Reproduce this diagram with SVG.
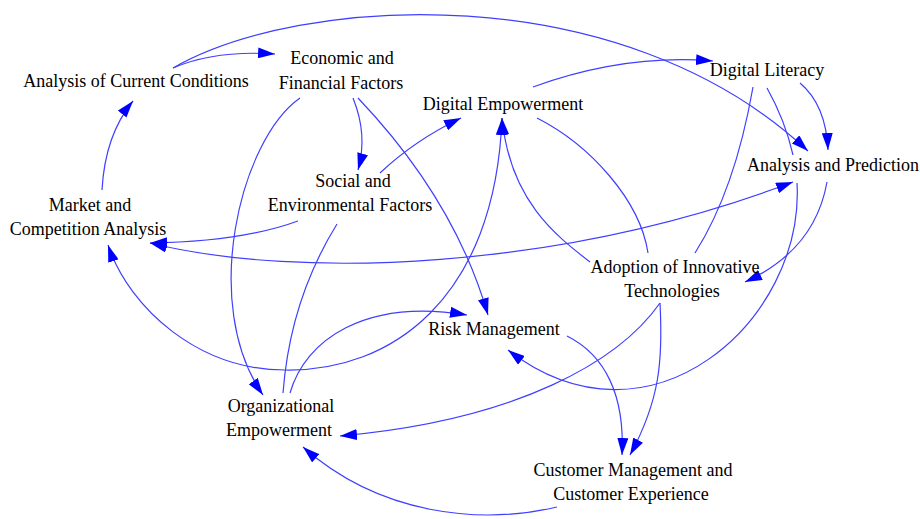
<svg xmlns="http://www.w3.org/2000/svg" width="920" height="519" viewBox="0 0 920 519">
<style>
  .bg { fill: #ffffff; }
  .lbl { font-family: "Liberation Serif", "Times New Roman", serif; font-size: 18px; fill: #000000; text-anchor: middle; }
  .c path { fill: none; stroke: #3f3fff; stroke-width: 1.2; }
  .c path.a { marker-end: url(#ah); }
  .c path.b { marker-start: url(#ah); marker-end: url(#ah); }
</style>
<defs>
  <marker id="ah" viewBox="0 0 17 11" markerWidth="17" markerHeight="11" refX="17" refY="5.5" orient="auto-start-reverse" markerUnits="userSpaceOnUse">
    <path d="M0,0 L17,5.5 L0,11 z" fill="#0000ff"/>
  </marker>
</defs>
<rect class="bg" x="0" y="0" width="920" height="519"/>

<g id="connectors" class="c">
  <path id="acc-eff" class="a" d="M173,68 Q215,50 275,54"/>
  <path id="acc-ap" class="a" d="M173,68 C300,-5 620,-25 808,151"/>
  <path id="eff-org" class="a" d="M300,98 C240,140 200,305 263,395"/>
  <path id="eff-sef" class="a" d="M353,98 Q368,135 358,170"/>
  <path id="eff-rm" class="a" d="M358,98 Q455,200 488,315"/>
  <path id="sef-de" class="a" d="M380,173 Q415,140 461,118"/>
  <path id="sef-mca" class="a" d="M298,221 Q240,242 150,243"/>
  <path id="mca-ap" class="b" d="M150,243 C300,280 560,270 793,182"/>
  <path id="mca-acc" class="a" d="M102,190 Q105,135 133,101"/>
  <path id="mca-de" class="b" d="M108,245 C130,310 200,370 285,370 C390,372 495,300 502,118"/>
  <path id="org-rm" class="a" d="M290,393 C305,340 365,298 467,315"/>
  <path id="sef-org" d="M337,224 Q290,300 283,393"/>
  <path id="ait-de" class="a" d="M590,262 C555,235 510,200 502,118"/>
  <path id="de-ait" d="M537,118 C590,145 640,200 648,253"/>
  <path id="de-dl" class="a" d="M533,87 C580,70 640,55 713,61"/>
  <path id="dl-ap" class="a" d="M800,83 Q826,105 828,150"/>
  <path id="dl-ap2" d="M767,88 Q785,120 793,155"/>
  <path id="ap-rm" class="a" d="M797,183 C805,320 650,460 508,350"/>
  <path id="ap-ait" class="a" d="M827,182 Q815,250 745,282"/>
  <path id="dl-ait" d="M753,87 Q735,190 695,253"/>
  <path id="ait-org" class="a" d="M660,303 C620,360 520,420 340,436"/>
  <path id="ait-cm" class="a" d="M660,303 C663,360 660,400 630,455"/>
  <path id="rm-cm" class="a" d="M567,336 C605,355 625,395 622,455"/>
  <path id="cm-org" class="a" d="M557,507 C480,525 380,515 303,447"/>
</g>

<g id="n-acc"><text class="lbl" x="136" y="87">Analysis of Current Conditions</text></g>
<g id="n-eff"><text class="lbl" x="342" y="64">Economic and</text><text class="lbl" x="341" y="89">Financial Factors</text></g>
<g id="n-de"><text class="lbl" x="503" y="110">Digital Empowerment</text></g>
<g id="n-dl"><text class="lbl" x="767" y="76">Digital Literacy</text></g>
<g id="n-ap"><text class="lbl" x="833" y="171">Analysis and Prediction</text></g>
<g id="n-sef"><text class="lbl" x="353" y="187">Social and</text><text class="lbl" x="350" y="211">Environmental Factors</text></g>
<g id="n-mca"><text class="lbl" x="90" y="211">Market and</text><text class="lbl" x="88" y="235">Competition Analysis</text></g>
<g id="n-ait"><text class="lbl" x="675" y="273">Adoption of Innovative</text><text class="lbl" x="672" y="297">Technologies</text></g>
<g id="n-rm"><text class="lbl" x="494" y="335">Risk Management</text></g>
<g id="n-org"><text class="lbl" x="281" y="412">Organizational</text><text class="lbl" x="279" y="436">Empowerment</text></g>
<g id="n-cm"><text class="lbl" x="633" y="476">Customer Management and</text><text class="lbl" x="631" y="500">Customer Experience</text></g>
</svg>
